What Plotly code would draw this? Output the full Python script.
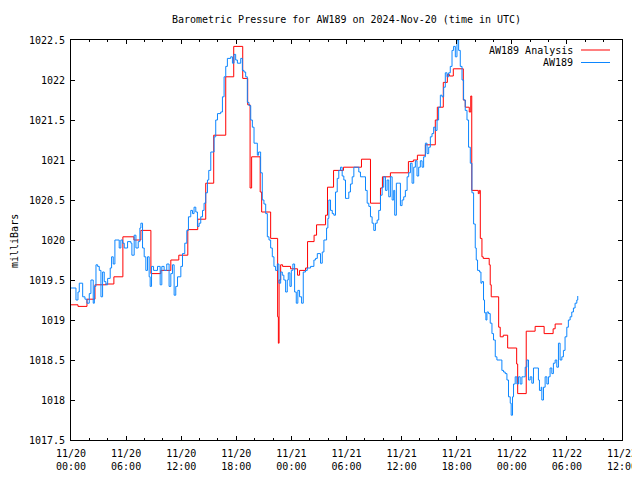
import plotly.graph_objects as go

# hours since 2024-11-20 00:00 UTC
obs_hours = [0, 0.43, 0.54, 0.76, 0.9, 1.09, 1.27, 1.52, 1.74, 1.99, 2.17, 2.42, 2.54, 2.72, 2.9, 3.08,
             3.26, 3.44, 3.62, 3.8, 3.99, 4.27, 4.42, 4.6, 4.78, 5.0, 5.25, 5.43, 5.62, 5.8, 6.16, 6.52,
             6.63, 6.88, 7.07, 7.32, 7.5, 7.61, 7.79, 7.97, 8.15, 8.33, 8.51, 8.62, 8.77, 8.99, 9.24,
             9.42, 9.71, 9.89, 10.14, 10.43, 10.68, 10.87, 11.05, 11.23, 11.41, 11.6, 11.96, 12.14,
             12.39, 12.61, 12.79, 13.04, 13.23, 13.4, 13.59, 13.77, 13.95, 14.13, 14.32, 14.49, 14.67,
             14.86, 15.0, 15.22, 15.58, 15.76, 15.95, 16.3, 16.49, 16.67, 16.85, 17.03, 17.39, 17.58,
             17.75, 17.93, 18.12, 18.48, 18.66, 18.84, 19.02, 19.2, 19.38, 19.57, 19.75, 19.93, 20.29,
             20.43, 20.65, 20.83, 21.01, 21.2, 21.38, 21.56, 21.74, 21.92, 22.1, 22.28, 22.47, 22.64,
             22.83, 23.01, 23.18, 23.37, 23.55, 23.66, 23.84, 23.99, 24.16, 24.35, 24.53, 24.7, 24.89,
             25.11, 25.29, 25.54, 25.73, 26.09, 26.45, 26.63, 26.82, 27.17, 27.36, 27.54, 27.83, 27.97,
             28.08, 28.26, 28.45, 28.62, 28.8, 28.99, 29.16, 29.35, 29.53, 29.71, 29.89, 30.08, 30.25,
             30.43, 30.62, 30.8, 31.16, 31.34, 31.52, 31.88, 32.07, 32.25, 32.43, 32.61, 32.79, 32.97,
             33.15, 33.34, 33.51, 33.7, 33.88, 34.05, 34.24, 34.42, 34.6, 34.78, 34.97, 35.14, 35.25,
             35.43, 35.68, 35.87, 36.05, 36.23, 36.41, 36.6, 36.77, 36.96, 37.14, 37.32, 37.5, 37.68,
             37.86, 38.04, 38.23, 38.4, 38.59, 38.77, 38.95, 39.13, 39.31, 39.49, 39.67, 39.86, 40.03,
             40.22, 40.4, 40.58, 40.76, 40.95, 41.12, 41.3, 41.49, 41.66, 41.85, 42.03, 42.21, 42.39,
             42.58, 42.75, 42.93, 43.12, 43.29, 43.48, 43.66, 43.84, 44.02, 44.13, 44.27, 44.49, 44.64,
             44.75, 44.92, 45.03, 45.18, 45.29, 45.47, 45.65, 45.84, 46.01, 46.2, 46.38, 46.74, 46.92,
             47.1, 47.28, 47.47, 47.64, 47.83, 47.93, 48.08, 48.19, 48.37, 48.55, 48.73, 48.91, 49.1,
             49.27, 49.46, 49.64, 49.82, 50.0, 50.18, 50.36, 50.73, 50.9, 51.01, 51.2, 51.27, 51.45,
             51.63, 51.82, 51.99, 52.17, 52.36, 52.53, 52.72, 52.9, 53.08, 53.26, 53.45, 53.62, 53.8,
             53.99, 54.16, 54.35, 54.53, 54.71, 54.89, 55.08, 55.18]
obs_mb = [1019.40, 1019.40, 1019.25, 1019.35, 1019.46, 1019.46, 1019.29, 1019.26, 1019.21, 1019.33,
          1019.50, 1019.21, 1019.42, 1019.69, 1019.67, 1019.62, 1019.29, 1019.60, 1019.48, 1019.44,
          1019.52, 1019.65, 1019.79, 1019.70, 1020.00, 1020.00, 1019.90, 1020.00, 1019.96, 1019.90,
          1019.98, 1019.96, 1019.81, 1020.06, 1019.90, 1019.98, 1020.15, 1020.21, 1019.90, 1019.79,
          1019.62, 1019.79, 1019.54, 1019.42, 1019.67, 1019.62, 1019.62, 1019.67, 1019.44, 1019.67,
          1019.62, 1019.70, 1019.42, 1019.58, 1019.69, 1019.31, 1019.42, 1019.54, 1019.67, 1019.83,
          1019.96, 1020.12, 1020.29, 1020.37, 1020.33, 1020.41, 1020.35, 1020.17, 1020.21, 1020.29,
          1020.37, 1020.46, 1020.59, 1020.75, 1020.87, 1021.10, 1021.29, 1021.50, 1021.58, 1021.60,
          1021.79, 1022.04, 1022.17, 1022.27, 1022.29, 1022.21, 1022.32, 1022.25, 1022.21, 1022.27,
          1022.12, 1022.10, 1022.04, 1021.72, 1021.68, 1021.50, 1021.41, 1021.21, 1021.06, 1021.10,
          1020.84, 1020.50, 1020.45, 1020.33, 1020.04, 1020.00, 1019.90, 1019.79, 1019.67, 1019.62,
          1019.70, 1019.46, 1019.60, 1019.56, 1019.50, 1019.35, 1019.50, 1019.59, 1019.42, 1019.62,
          1019.70, 1019.35, 1019.21, 1019.37, 1019.29, 1019.21, 1019.60, 1019.62, 1019.65, 1019.67,
          1019.75, 1019.77, 1019.83, 1019.71, 1019.85, 1020.00, 1020.15, 1020.27, 1020.50, 1020.37,
          1020.33, 1020.31, 1020.60, 1020.77, 1020.87, 1020.91, 1020.80, 1020.75, 1020.52, 1020.52,
          1020.60, 1020.70, 1020.79, 1020.91, 1020.91, 1020.85, 1020.79, 1020.79, 1020.62, 1020.46,
          1020.42, 1020.29, 1020.21, 1020.12, 1020.21, 1020.25, 1020.37, 1020.56, 1020.66, 1020.79,
          1020.62, 1020.75, 1020.54, 1020.79, 1020.50, 1020.62, 1020.31, 1020.71, 1020.71, 1020.43,
          1020.50, 1020.54, 1020.62, 1020.79, 1020.84, 1020.96, 1020.71, 1020.91, 1020.99, 1020.80,
          1020.91, 1020.99, 1020.91, 1021.04, 1021.21, 1021.08, 1021.16, 1021.29, 1021.33, 1021.41,
          1021.37, 1021.50, 1021.66, 1021.81, 1021.79, 1021.91, 1022.09, 1022.04, 1022.09, 1022.17,
          1022.37, 1022.42, 1022.29, 1022.50, 1022.37, 1022.17, 1022.00, 1021.75, 1021.62, 1021.50,
          1021.16, 1020.96, 1020.59, 1020.20, 1019.90, 1019.75, 1019.62, 1019.60, 1019.46, 1019.48,
          1019.25, 1019.09, 1019.00, 1019.10, 1019.08, 1018.96, 1018.83, 1018.75, 1018.54, 1018.50,
          1018.50, 1018.37, 1018.35, 1018.33, 1018.25, 1018.04, 1017.96, 1017.81, 1018.04, 1018.20,
          1018.29, 1018.20, 1018.29, 1018.20, 1018.29, 1018.29, 1018.41, 1018.50, 1018.25, 1018.29,
          1018.21, 1018.40, 1018.40, 1018.25, 1018.12, 1018.16, 1018.00, 1018.16, 1018.29, 1018.20,
          1018.29, 1018.40, 1018.33, 1018.46, 1018.50, 1018.41, 1018.71, 1018.50, 1018.54, 1018.62,
          1018.79, 1018.91, 1019.00, 1019.04, 1019.10, 1019.15, 1019.21, 1019.25, 1019.30]

ana_hours = [0, 0.76, 1.74, 2.61, 3.8, 4.67, 5.65, 6.85, 7.61, 8.7, 9.78, 10.87, 11.74, 12.72, 13.8,
             14.67, 15.54, 16.85, 17.72, 18.7, 19.24, 19.5, 19.67, 20.6, 20.76, 21.74, 22.5, 22.58,
             22.66, 22.83, 23.04, 23.91, 24.67, 24.89, 25.54, 25.76, 26.47, 26.74, 27.72, 27.93,
             28.59, 29.67, 31.63, 32.61, 33.7, 33.91, 34.78, 36.74, 37.28, 37.72, 38.59, 39.67,
             39.89, 40.54, 40.98, 41.2, 41.63, 42.72, 42.93, 43.37, 43.53, 43.64, 44.35, 44.46,
             44.57, 44.75, 44.89, 45.54, 45.65, 45.76, 46.57, 46.74, 47.07, 47.55, 48.53, 48.64,
             49.57, 50.54, 51.52, 52.5, 52.72, 53.48]
ana_mb = [1019.19, 1019.17, 1019.26, 1019.44, 1019.45, 1019.54, 1020.04, 1020.00, 1020.12, 1019.58,
          1019.62, 1019.75, 1019.81, 1020.13, 1020.26, 1020.71, 1021.31, 1022.04, 1022.42, 1022.02,
          1021.69, 1020.65, 1021.04, 1020.60, 1020.35, 1020.02, 1019.04, 1018.71, 1019.50, 1019.69,
          1019.67, 1019.64, 1019.56, 1019.62, 1019.65, 1019.98, 1020.06, 1020.19, 1020.31, 1020.66,
          1020.87, 1020.91, 1021.01, 1020.46, 1020.65, 1020.79, 1020.84, 1020.98, 1021.00, 1021.06,
          1021.19, 1021.50, 1021.66, 1021.97, 1022.07, 1022.05, 1022.14, 1021.75, 1021.66, 1021.60,
          1021.80, 1020.62, 1020.58, 1020.62, 1020.02, 1019.79, 1019.77, 1019.69, 1019.44, 1019.29,
          1018.91, 1018.79, 1018.81, 1018.65, 1018.45, 1018.08, 1018.86, 1018.92, 1018.83, 1018.89,
          1018.95, 1018.95]

x_tick_vals = [0, 6, 12, 18, 24, 30, 36, 42, 48, 54, 60]
x_tick_text = ["11/20<br>00:00", "11/20<br>06:00", "11/20<br>12:00", "11/20<br>18:00",
               "11/21<br>00:00", "11/21<br>06:00", "11/21<br>12:00", "11/21<br>18:00",
               "11/22<br>00:00", "11/22<br>06:00", "11/22<br>12:00"]
y_tick_vals = [1017.5, 1018, 1018.5, 1019, 1019.5, 1020, 1020.5, 1021, 1021.5, 1022, 1022.5]
y_tick_text = ["1017.5", "1018", "1018.5", "1019", "1019.5", "1020", "1020.5", "1021", "1021.5",
               "1022", "1022.5"]

RED = "#ff0000"
BLUE = "#0c86ff"
FONT = "DejaVu Sans Mono"

fig = go.Figure()
fig.add_trace(go.Scatter(x=ana_hours, y=ana_mb, mode="lines", line_shape="hv",
                         line=dict(color=RED, width=1), name="AW189 Analysis"))
fig.add_trace(go.Scatter(x=obs_hours, y=obs_mb, mode="lines", line_shape="hv",
                         line=dict(color=BLUE, width=1), name="AW189"))

# page offset (body margin) of 8px is compensated; plot area on page: x 71..622, y 40..440
OFF = 8
PL, PR, PT, PB = 71, 622, 40, 440
W, H = 640 - OFF, 480 - OFF
L, T = PL - OFF, PT - OFF
R, B = 640 - PR, 480 - PB

def px(x):
    return (x - PL) / (PR - PL)

def py(y):
    return 1 - (y - PT) / (PB - PT)

ann = []
shapes = []
for i, (name, col) in enumerate([("AW189 Analysis", RED), ("AW189", BLUE)]):
    yy = 50 + i * 12.5
    ann.append(dict(text=name, xref="paper", yref="paper", x=px(575), y=py(yy),
                    xanchor="right", yanchor="middle", showarrow=False,
                    font=dict(family=FONT, size=10, color="black")))
    shapes.append(dict(type="line", xref="paper", yref="paper", x0=px(581), x1=px(610),
                       y0=py(yy), y1=py(yy), line=dict(color=col, width=1)))
ann.append(dict(text="milliBars", xref="paper", yref="paper", x=px(15), y=py(241),
                xanchor="center", yanchor="middle", textangle=-90, showarrow=False,
                font=dict(family=FONT, size=10, color="black")))

fig.update_layout(
    width=W, height=H,
    margin=dict(l=L, r=R, t=T, b=B, autoexpand=False),
    paper_bgcolor="white", plot_bgcolor="white",
    showlegend=False,
    font=dict(family=FONT, size=10, color="black"),
    title=dict(text="Barometric Pressure for AW189 on 2024-Nov-20 (time in UTC)",
               x=0.5, xanchor="center", xref="paper", yref="container", y=1 - (19 - OFF) / H,
               yanchor="middle", automargin=False,
               font=dict(family=FONT, size=10, color="black")),
    annotations=ann, shapes=shapes,
)
fig.update_xaxes(range=[0, 60], tickvals=x_tick_vals, ticktext=x_tick_text, automargin=False,
                 showgrid=False, zeroline=False, showline=True, linecolor="black", linewidth=1,
                 mirror="ticks", ticks="inside", ticklen=4, tickcolor="black",
                 ticklabelstandoff=4,
                 minor=dict(dtick=2, tick0=0, ticks="inside", ticklen=2, tickcolor="black"))
fig.update_yaxes(range=[1017.5, 1022.5], tickvals=y_tick_vals, ticktext=y_tick_text,
                 automargin=False, ticklabelstandoff=3,
                 showgrid=False, zeroline=False, showline=True, linecolor="black", linewidth=1,
                 mirror="ticks", ticks="inside", ticklen=4, tickcolor="black")

fig.write_html("out.html")
